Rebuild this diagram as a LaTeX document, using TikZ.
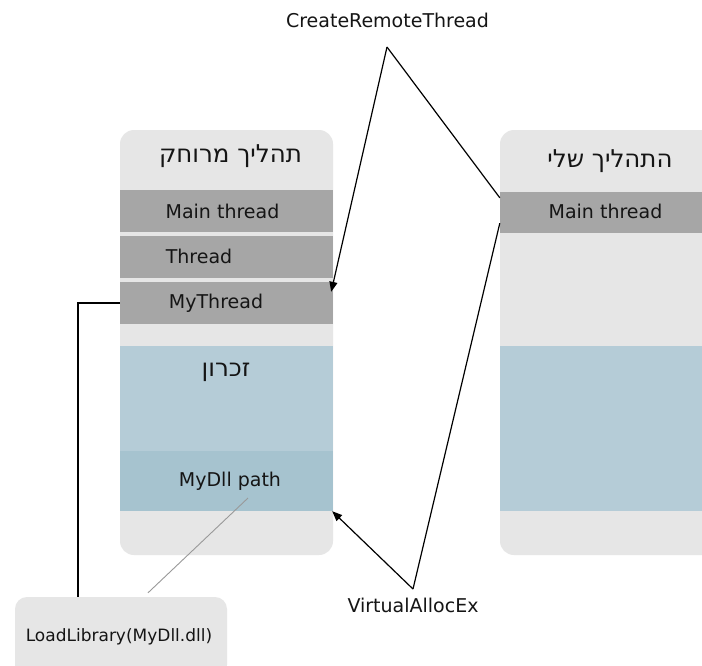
\documentclass[tikz,border=0pt]{standalone}
\usepackage{fontspec}
\setmainfont{DejaVu Sans}
\newfontfamily\hebfont[Script=Hebrew]{DejaVu Sans}
\TeXXeTstate=1
\usetikzlibrary{arrows.meta,calc}
\definecolor{panelc}{HTML}{E6E6E6}
\definecolor{barc}{HTML}{A6A6A6}
\definecolor{memc}{HTML}{B5CCD7}
\definecolor{dllc}{HTML}{A6C3CF}
\definecolor{txtc}{HTML}{151515}
\begin{document}
\begin{tikzpicture}[x=1pt,y=-1pt,
  panelbox/.style={fill=panelc,draw=none,rounded corners=14pt,inner sep=0pt},
  barbox/.style={fill=barc,draw=none,inner sep=0pt,minimum height=42pt},
  membox/.style={fill=memc,draw=none,inner sep=0pt},
  dllbox/.style={fill=dllc,draw=none,inner sep=0pt},
  txt/.style={text=txtc,inner sep=0pt,font=\fontsize{19}{23}\selectfont},
  hebtxt/.style={text=txtc,inner sep=0pt,font=\fontsize{24.5}{28}\selectfont\hebfont},
  smalltxt/.style={text=txtc,inner sep=0pt,font=\fontsize{17}{20}\selectfont},
  conn/.style={draw=black,line width=1.2pt},
  arr/.style={conn,-{Triangle[length=10pt,width=8pt]}},
  thin/.style={draw=gray!80,line width=0.9pt}]
\clip (0,0) rectangle (702,665);
\fill[white] (0,0) rectangle (702,665);
% panels
\node[panelbox,minimum width=213pt,minimum height=425pt] (lp) at (226.5,342.5) {};
\node[panelbox,minimum width=240pt,minimum height=425pt] (rp) at (620,342.5) {};
% left panel content
\node[hebtxt] (lh) at (230.5,156) {\beginR תהליך מרוחק\endR};
\node[barbox,minimum width=213pt] (lmain) at (226.5,211) {};
\node[barbox,minimum width=213pt] (lthr) at (226.5,256.5) {};
\node[barbox,minimum width=213pt] (lmy) at (226.5,303) {};
\node[txt] (tlmain) at (222.5,211) {Main thread};
\node[txt] (tlthr) at (199,256.5) {Thread};
\node[txt] (tlmy) at (216,303) {MyThread};
\node[membox,minimum width=213pt,minimum height=105pt] (lmem) at (226.5,398.5) {};
\node[dllbox,minimum width=213pt,minimum height=60pt] (ldll) at (226.5,481) {};
\node[hebtxt] (tmem) at (226,372) {\beginR זכרון\endR};
\node[txt] (tdll) at (230,481) {MyDll path};
% right panel content
\node[hebtxt] (rh) at (610,161) {\beginR התהליך שלי\endR};
\node[barbox,minimum width=240pt,minimum height=41pt] (rmain) at (620,212.5) {};
\node[txt] (trmain) at (605.5,211) {Main thread};
\node[membox,minimum width=240pt,minimum height=165pt] (rmem) at (620,428.5) {};
% labels
\node[txt] (crt) at (387.5,20) {CreateRemoteThread};
\node[txt] (vae) at (413,605) {VirtualAllocEx};
\node[panelbox,rounded corners=12pt,minimum width=212pt,minimum height=80pt] (ll) at (121,637) {};
\node[smalltxt] (tll) at (119,637) {LoadLibrary(MyDll.dll)};
% connectors
\coordinate (crtA) at (387,47);
\coordinate (vaeA) at (413,589);
\draw[conn] ([yshift=-6pt]rmain.north west) -- (crtA);
\draw[arr] (crtA) -- ([xshift=-2pt,yshift=-10pt]lmy.north east);
\draw[conn] ([yshift=10pt]rmain.south west) -- (vaeA);
\draw[arr] (vaeA) -- ([xshift=-1pt]ldll.south east);
\draw[conn] (lmy.west) -| ([xshift=-43pt]ll.north);
\draw[thin] ([xshift=21.5pt,yshift=-17pt]ldll.center) -- ([xshift=27pt,yshift=4pt]ll.north);
\end{tikzpicture}
\end{document}
